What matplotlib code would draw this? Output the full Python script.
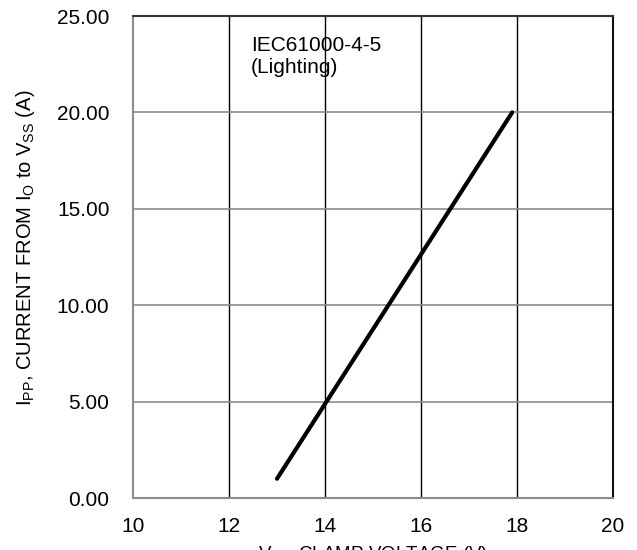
import matplotlib
matplotlib.use("Agg")
import matplotlib.pyplot as plt

plt.rcParams["font.family"] = ["Liberation Sans", "DejaVu Sans"]

# Data
clamp_voltage = [13.0, 17.9]
peak_current = [1.0, 20.0]
x_ticks = [10, 12, 14, 16, 18, 20]
y_ticks = [0, 5, 10, 15, 20, 25]

fig = plt.figure(figsize=(6.37, 5.5), dpi=100)
ax = fig.add_axes([133 / 637, 52 / 550, 480 / 637, 482 / 550])

ax.plot(clamp_voltage, peak_current, color="black", linewidth=3,
        solid_capstyle="round", zorder=3)

ax.set_xlim(10, 20)
ax.set_ylim(0, 25)
ax.set_xticks(x_ticks)
ax.set_yticks(y_ticks)
ax.set_yticklabels([f"{v:.2f}" for v in y_ticks])

# grid: black verticals, gray horizontals
for x in x_ticks[1:-1]:
    ax.axvline(x, color="black", linewidth=1, zorder=1)
for y in y_ticks[1:-1]:
    ax.axhline(y, color="#8c8c8c", linewidth=1.2, zorder=1)

ax.spines["left"].set_color("#8c8c8c")
ax.spines["bottom"].set_color("#8c8c8c")
ax.spines["left"].set_linewidth(1.5)
ax.spines["bottom"].set_linewidth(1.5)
ax.spines["top"].set_color("#333333")
ax.spines["right"].set_color("#111111")
ax.spines["top"].set_linewidth(1.5)
ax.spines["right"].set_linewidth(1.5)

ax.tick_params(length=0, labelsize=15, colors="black")
ax.tick_params(axis="y", pad=17)
ax.tick_params(axis="x", pad=14)

ax.text(12.46, 23.95, "IEC61000-4-5\n(Lighting)", fontsize=15,
        va="top", ha="left", linespacing=1.2)

# axis titles
fig.text(26 / 637, 1 - 248 / 550,
         "I$_{\\mathregular{PP}}$, CURRENT FROM I$_{\\mathregular{O}}$ to V$_{\\mathregular{SS}}$ (A)",
         fontsize=14.5, rotation=90, ha="center", va="center")

# x-axis title sits mostly below the figure edge, as in the source
fig.text(373 / 637, 1 - 544 / 550, "V$_{\\mathregular{CL}}$, CLAMP VOLTAGE (V)",
         fontsize=13.5, ha="center", va="top")

fig.savefig("out.png", dpi=100)
